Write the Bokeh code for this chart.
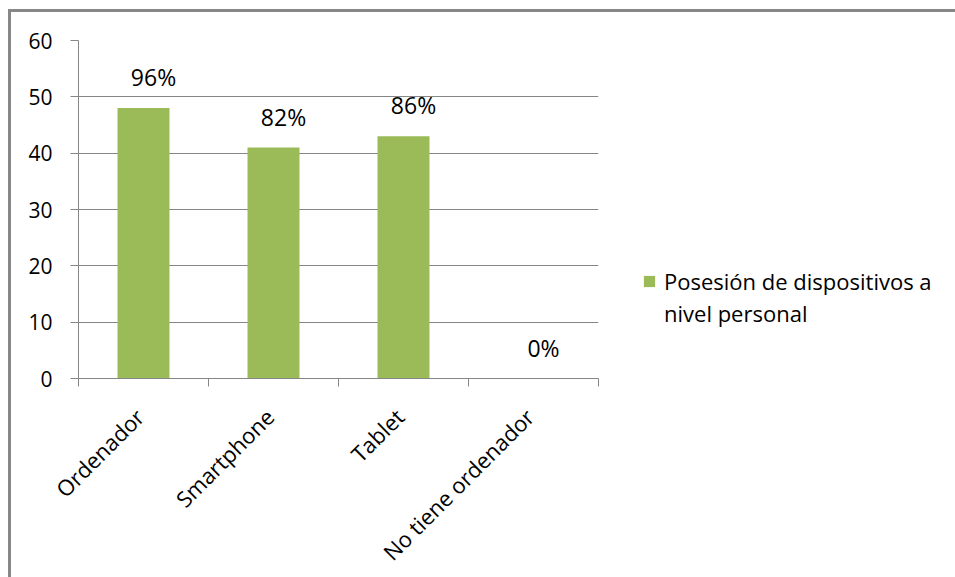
from bokeh.plotting import figure
from bokeh.models import (ColumnDataSource, Range1d, FixedTicker, Legend, LegendItem)
from bokeh.core.properties import value
from bokeh.embed import file_html
from bokeh.resources import INLINE

categories = ["Ordenador", "Smartphone", "Tablet", "No tiene ordenador"]
values = [48, 41, 43, 0]
pct_labels = ["96%", "82%", "86%", "0%"]
y_ticks = [0, 10, 20, 30, 40, 50, 60]
series_name_lines = ["Posesión de dispositivos a", "nivel personal"]

FONT = "Open Sans"
GRAY = "#868686"
GREEN = "#9BBB59"

xs = [i + 0.5 for i in range(len(categories))]
label_ticks = [x - 0.03 for x in xs]
source = ColumnDataSource(dict(x=xs, value=values, label=pct_labels, cat=categories))

p = figure(frame_width=520, frame_height=338, output_backend="svg", toolbar_location=None,
           x_range=Range1d(0, len(categories)), y_range=Range1d(0, 60),
           min_border_left=67, min_border_right=357, min_border_top=28,
           min_border_bottom=198)
p.styles = {"border-left": "3px solid #878787", "border-top": "3px solid #878787",
            "margin-left": "8px", "margin-top": "9px"}
p.outline_line_color = None
p.background_fill_color = "white"
p.border_fill_color = "white"

bars = p.vbar(x="x", top="value", width=0.4, source=source, fill_color=GREEN,
              line_color=None)
ghost = p.vbar(x="x", top="value", width=0.4, source=source, fill_alpha=0,
               line_alpha=0)

p.text(x="x", y="value", text="label", source=source, x_offset=10, y_offset=-31,
       text_align="center", text_baseline="middle", text_font=value(FONT),
       text_font_size="23px", text_color="black")

# x axis
p.xaxis.ticker = FixedTicker(ticks=label_ticks,
                             minor_ticks=list(range(len(categories) + 1)))
p.xaxis.major_label_overrides = {t: c for t, c in zip(label_ticks, categories)}
p.xaxis.major_label_orientation = 0.785398
p.xaxis.major_tick_line_color = None
p.xaxis.minor_tick_line_color = GRAY
p.xaxis.minor_tick_out = 8
p.xaxis.minor_tick_in = 0
p.xaxis.axis_line_color = GRAY
p.xaxis.major_label_text_font = FONT
p.xaxis.major_label_text_font_size = "22px"
p.xaxis.major_label_text_color = "black"
p.xaxis.major_label_standoff = 26

# y axis
p.yaxis.ticker = FixedTicker(ticks=y_ticks)
p.yaxis.axis_line_color = GRAY
p.yaxis.major_tick_line_color = GRAY
p.yaxis.major_tick_out = 8
p.yaxis.major_tick_in = 0
p.yaxis.minor_tick_line_color = None
p.yaxis.major_label_text_font = FONT
p.yaxis.major_label_text_font_size = "21px"
p.yaxis.major_label_text_color = "black"
p.yaxis.major_label_standoff = 18

p.xgrid.grid_line_color = None
p.ygrid.grid_line_color = GRAY
p.ygrid.ticker = FixedTicker(ticks=y_ticks)

legend = Legend(items=[LegendItem(label=series_name_lines[0], renderers=[bars]),
                       LegendItem(label=series_name_lines[1], renderers=[ghost])],
                location=(44, 50), padding=0, margin=0, spacing=2,
                border_line_color=None, background_fill_alpha=0,
                glyph_width=14, glyph_height=14, label_standoff=8,
                label_text_font=FONT, label_text_font_size="22px",
                label_text_color="black")
p.add_layout(legend, "right")

open("out.html", "w").write(file_html(p, INLINE))
